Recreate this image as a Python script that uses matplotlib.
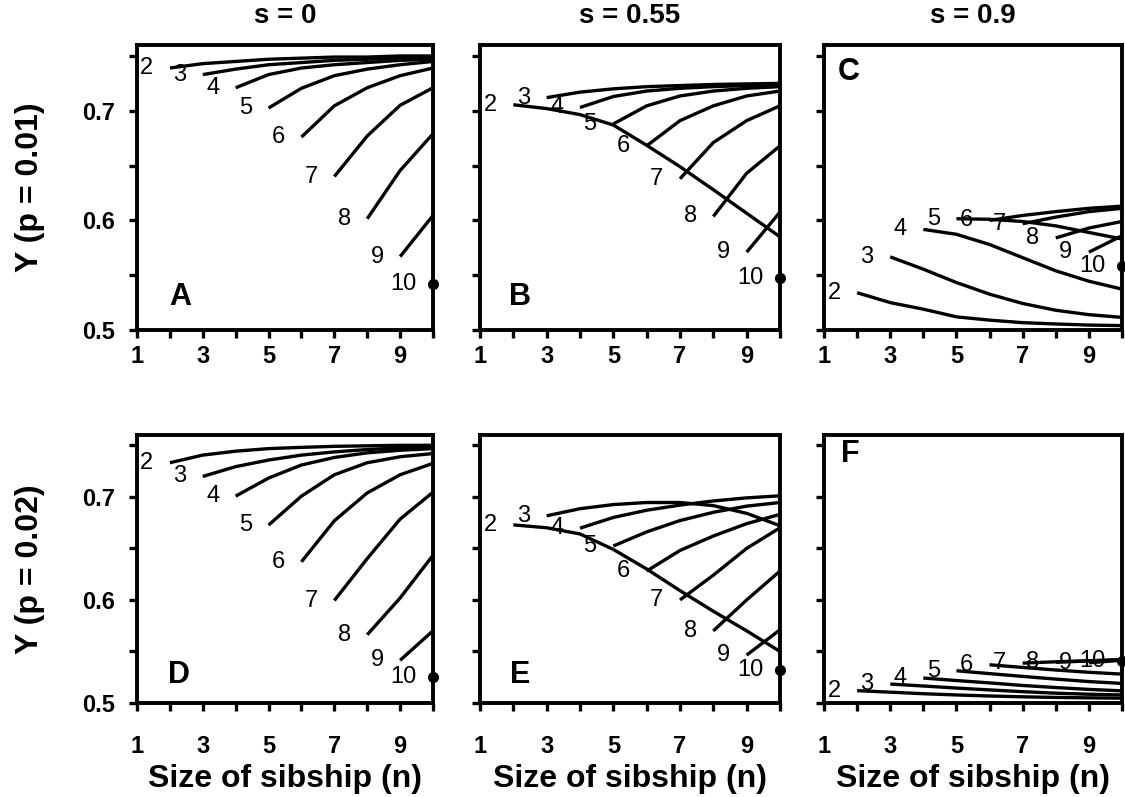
import numpy as np
import matplotlib
matplotlib.use('Agg')
import matplotlib.pyplot as plt

plt.rcParams['font.family'] = ['Liberation Sans', 'DejaVu Sans']

# sibship sizes on the x axis, one curve per label k, each starting at n = k
sizes = np.arange(1, 11)
curve_ids = [2, 3, 4, 5, 6, 7, 8, 9, 10]
s_titles = ['s = 0', 's = 0.55', 's = 0.9']
row_labels = ['Y (p = 0.01)', 'Y (p = 0.02)']
letters = ['A', 'B', 'C', 'D', 'E', 'F']

# p = 0.01, s = 0
y_a = [
    [0.739, 0.743, 0.745, 0.747, 0.748, 0.749, 0.749, 0.750, 0.750],
    [0.733, 0.738, 0.742, 0.744, 0.746, 0.747, 0.748, 0.749],
    [0.721, 0.733, 0.739, 0.742, 0.744, 0.746, 0.747],
    [0.7025, 0.7205, 0.732, 0.738, 0.742, 0.745],
    [0.676, 0.7045, 0.721, 0.732, 0.739],
    [0.640, 0.677, 0.705, 0.721],
    [0.6015, 0.6455, 0.679],
    [0.567, 0.6045],
    [0.5424],
]
# p = 0.01, s = 0.55
y_b = [
    [0.7055, 0.702, 0.6965, 0.687, 0.6685, 0.649, 0.628, 0.6065, 0.585],
    [0.712, 0.717, 0.720, 0.722, 0.723, 0.724, 0.7245, 0.725],
    [0.703, 0.713, 0.718, 0.7205, 0.722, 0.723, 0.7235],
    [0.688, 0.7045, 0.7135, 0.718, 0.7205, 0.722],
    [0.668, 0.691, 0.7045, 0.7135, 0.718],
    [0.638, 0.671, 0.691, 0.7045],
    [0.6036, 0.643, 0.668],
    [0.571, 0.6076],
    [0.547],
]
# p = 0.01, s = 0.9
y_c = [
    [0.534, 0.525, 0.519, 0.512, 0.509, 0.5067, 0.5055, 0.5045, 0.504],
    [0.5667, 0.5555, 0.5433, 0.5327, 0.5242, 0.518, 0.514, 0.5115],
    [0.5918, 0.5873, 0.578, 0.566, 0.554, 0.5445, 0.5373],
    [0.6015, 0.601, 0.599, 0.595, 0.589, 0.583],
    [0.600, 0.6045, 0.608, 0.611, 0.613],
    [0.597, 0.603, 0.608, 0.611],
    [0.584, 0.593, 0.599],
    [0.571, 0.586],
    [0.558],
]
# p = 0.02, s = 0
y_d = [
    [0.7331, 0.7405, 0.7443, 0.7468, 0.748, 0.749, 0.7495, 0.750, 0.750],
    [0.7198, 0.7293, 0.7357, 0.7405, 0.7436, 0.7459, 0.7475, 0.7484],
    [0.7007, 0.7182, 0.7309, 0.7382, 0.7427, 0.7452, 0.7468],
    [0.6726, 0.7007, 0.7214, 0.7331, 0.7389, 0.742],
    [0.637, 0.6768, 0.7038, 0.7214, 0.7325],
    [0.5994, 0.6401, 0.6784, 0.7045],
    [0.5662, 0.6019, 0.6433],
    [0.5414, 0.5701],
    [0.5255],
]
# p = 0.02, s = 0.55
y_e = [
    [0.6728, 0.670, 0.664, 0.649, 0.630, 0.609, 0.589, 0.570, 0.550],
    [0.6816, 0.6885, 0.6925, 0.6945, 0.6945, 0.6915, 0.684, 0.672],
    [0.6696, 0.680, 0.687, 0.692, 0.696, 0.699, 0.701],
    [0.6523, 0.666, 0.677, 0.685, 0.691, 0.6945],
    [0.628, 0.648, 0.662, 0.674, 0.683],
    [0.600, 0.624, 0.650, 0.670],
    [0.570, 0.600, 0.628],
    [0.5465, 0.571],
    [0.532],
]
# p = 0.02, s = 0.9
y_f = [
    [0.512, 0.5105, 0.509, 0.5078, 0.5068, 0.506, 0.5054, 0.505, 0.5047],
    [0.5184, 0.5165, 0.5145, 0.5127, 0.511, 0.5095, 0.5085, 0.5078],
    [0.5242, 0.5218, 0.5195, 0.517, 0.515, 0.5132, 0.5118],
    [0.5313, 0.5285, 0.5258, 0.5232, 0.5208, 0.519],
    [0.5371, 0.5345, 0.532, 0.5298, 0.528],
    [0.5387, 0.540, 0.541, 0.542],
    [0.5395, 0.5408, 0.542],
    [0.539, 0.5415],
    [0.5405],
]
panels = [y_a, y_b, y_c, y_d, y_e, y_f]

fig = plt.figure(figsize=(11.25, 7.97), dpi=100)
W, H = 1125.0, 797.0
cols = [(137, 296), (480, 300), (824, 298)]
rows = [(45, 330), (435, 703)]
letter_xy = [(0.145, 0.115), (0.133, 0.115), (0.083, 0.905),
             (0.14, 0.105), (0.133, 0.105), (0.087, 0.93)]

for i, curves in enumerate(panels):
    r, c = divmod(i, 3)
    x0, w = cols[c]
    top, bot = rows[r]
    ax = fig.add_axes([x0 / W, 1 - bot / H, w / W, (bot - top) / H])

    for k, vals in zip(curve_ids, curves):
        n = sizes[k - 1:]
        if len(vals) == 1:
            ax.plot(n, vals, 'o', color='k', ms=7, clip_on=False, zorder=4)
        else:
            ax.plot(n, vals, color='k', lw=2.4, solid_capstyle='butt')
        ax.text(k - 0.5, vals[0], str(k), ha='right', va='center',
                fontsize=17, color='k')

    ax.text(*letter_xy[i], letters[i], transform=ax.transAxes, ha='center',
            va='center', fontsize=22, fontweight='bold')

    ax.set_xlim(1, 10)
    ax.set_ylim(0.5, 0.76)
    ax.set_xticks(sizes)
    ax.set_xticklabels([str(v) if v % 2 else '' for v in sizes])
    yt = [0.5, 0.55, 0.6, 0.65, 0.7, 0.75]
    ax.set_yticks(yt)
    if c == 0:
        ax.set_yticklabels(['0.5', '', '0.6', '', '0.7', ''])
    else:
        ax.set_yticklabels([])
    for sp in ax.spines.values():
        sp.set_linewidth(2.8)
    ax.tick_params(direction='out', length=6, width=2.4, labelsize=17)
    ax.tick_params(axis='y', pad=10)
    ax.tick_params(axis='x', pad=5 if r == 0 else 17)
    for lab in ax.get_xticklabels() + ax.get_yticklabels():
        lab.set_fontweight('bold')

    if r == 0:
        ax.set_title(s_titles[c], fontsize=20, fontweight='bold', pad=16)
    else:
        ax.set_xlabel('Size of sibship (n)', fontsize=23, fontweight='bold',
                      labelpad=4)

for r, label in enumerate(row_labels):
    top, bot = rows[r]
    fig.text(30 / W, 1 - (top + bot) / 2 / H, label, rotation=90,
             ha='center', va='center', fontsize=23, fontweight='bold')

fig.savefig('out.png', dpi=100)
